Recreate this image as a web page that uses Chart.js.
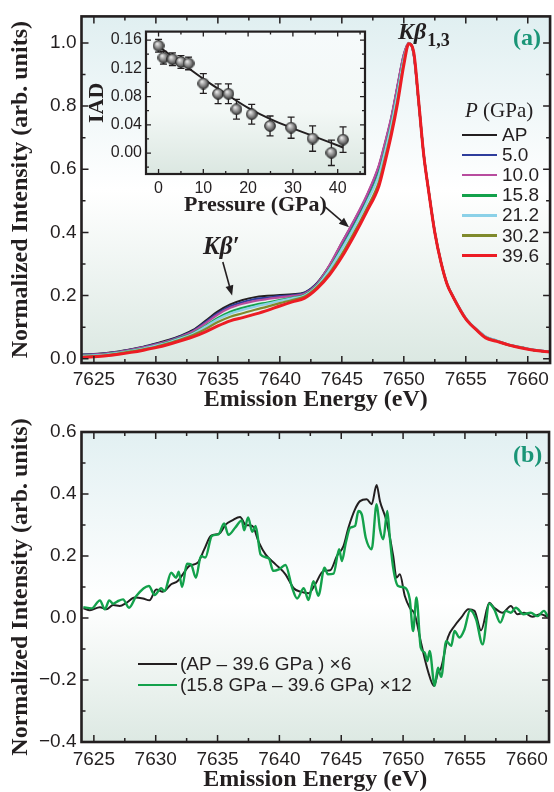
<!DOCTYPE html>
<html>
<head>
<meta charset="utf-8">
<title>Kβ emission spectra under pressure</title>
<script src="https://cdn.jsdelivr.net/npm/chart.js@4.4.1/dist/chart.umd.min.js"></script>
<style>
  html, body { margin: 0; padding: 0; background: #fff; }
  #page { position: relative; width: 554px; height: 792px; overflow: hidden; }
  canvas { position: absolute; }
  .txt { position: absolute; white-space: nowrap; line-height: 1; color: #231f20; }
  .serif { font-family: 'Liberation Serif', 'Times New Roman', serif; }
  .sans { font-family: 'Liberation Sans', Arial, sans-serif; }
  .tag { font-weight: bold; font-size: 24px; color: #1a9577; }
  .leg { position: absolute; display: flex; align-items: center; height: 20px; font-family: 'Liberation Sans', Arial, sans-serif; font-size: 19px; color: #231f20; white-space: nowrap; }
  .sw { display: inline-block; }
</style>
</head>
<body>
<div id="page">
  <canvas id="chartA" width="554" height="412" style="left:0;top:0"></canvas>
  <canvas id="chartInset" width="288" height="202" style="left:84px;top:18px"></canvas>
  <canvas id="chartB" width="554" height="380" style="left:0;top:412px"></canvas>

  <div class="txt serif" style="left:398px;top:19px;font-size:24px;font-weight:bold;font-style:italic">Kβ<span style="font-style:normal;font-size:18px;position:relative;top:7px;margin-left:1px">1,3</span></div>
  <div class="txt serif tag" style="left:513px;top:25px">(a)</div>
  <div class="txt serif" style="left:203px;top:233px;font-size:25px;font-weight:bold;font-style:italic">Kβ′</div>
  <div class="txt serif" style="left:465px;top:100px;font-size:21px"><i>P</i> (GPa)</div>
  <div id="legendA"></div>
  <div class="txt serif tag" style="left:513px;top:442px">(b)</div>
  <div id="legendB"></div>
</div>
<script>
// ---- panel (a): Kbeta spectra ----
const energyA = [7624, 7625, 7626, 7627, 7628, 7629, 7630, 7631, 7632, 7633, 7634, 7635, 7636, 7637, 7638, 7639, 7640,
  7641, 7642, 7643, 7644, 7645, 7646, 7647, 7648, 7648.5, 7649, 7649.5, 7650, 7650.4, 7650.8, 7651.2, 7651.6, 7652,
  7652.5, 7653, 7653.5, 7654, 7655, 7656, 7656.6, 7657.5, 7658.5, 7659.5, 7660.5, 7661.8];

const specAP = [.013, .015, .018, .023, .030, .038, .048, .059, .073, .091, .120, .150, .172, .186, .195, .199, .202,
  .204, .210, .240, .295, .367, .438, .515, .612, .685, .765, .866, .963, 1.000, .963, .810, .648, .532,
  .400, .305, .235, .194, .127, .087, .069, .056, .043, .035, .027, .021];
const spec5 = [.012, .014, .017, .022, .029, .037, .046, .057, .071, .088, .116, .144, .166, .179, .189, .193, .198,
  .201, .208, .238, .293, .363, .434, .511, .607, .680, .761, .862, .960, .999, .964, .811, .649, .533,
  .401, .306, .236, .195, .128, .088, .070, .057, .044, .036, .028, .022];
const spec10 = [.011, .013, .016, .021, .028, .036, .045, .056, .069, .086, .112, .140, .161, .174, .183, .189, .194,
  .199, .206, .236, .296, .368, .439, .517, .614, .687, .767, .868, .964, 1.000, .962, .810, .647, .531,
  .399, .304, .235, .194, .127, .088, .070, .056, .044, .035, .027, .021];
const spec158 = [.009, .011, .014, .019, .026, .033, .042, .053, .066, .081, .104, .129, .149, .161, .171, .178, .186,
  .193, .202, .232, .285, .351, .421, .498, .590, .664, .746, .846, .951, .999, .966, .812, .650, .534,
  .402, .306, .236, .195, .126, .087, .068, .056, .043, .035, .027, .021];
const spec212 = [.008, .010, .013, .018, .025, .032, .041, .051, .064, .079, .101, .125, .143, .155, .165, .174, .183,
  .191, .200, .230, .282, .347, .416, .493, .583, .658, .740, .841, .948, .999, .967, .813, .649, .533,
  .401, .306, .237, .196, .129, .089, .070, .057, .044, .036, .028, .022];
const spec302 = [.006, .008, .011, .016, .023, .030, .038, .049, .061, .075, .094, .116, .133, .144, .155, .165, .176,
  .186, .197, .227, .271, .331, .400, .475, .561, .637, .721, .821, .937, .998, .969, .814, .648, .532,
  .400, .305, .235, .194, .127, .087, .068, .056, .043, .035, .027, .021];
const spec396 = [.004, .006, .009, .014, .020, .027, .035, .045, .057, .069, .085, .104, .120, .130, .141, .153, .167,
  .180, .192, .222, .265, .322, .390, .465, .548, .625, .710, .810, .930, .997, .970, .815, .648, .532,
  .400, .305, .235, .194, .126, .086, .066, .055, .043, .034, .027, .021];

const pressureLabels = ['AP', '5.0', '10.0', '15.8', '21.2', '30.2', '39.6'];
const spectra = [specAP, spec5, spec10, spec158, spec212, spec302, spec396];
const lineColors = ['#231f20', '#2e3d9c', '#b84c9e', '#13a14b', '#8bd1e8', '#7f8a2c', '#ec1c24'];
const lineWidths = [2, 2.2, 2.2, 2.2, 2.4, 2.2, 3];

// ---- inset: IAD vs pressure ----
const pressure = [0, 1.1, 3.1, 5.0, 6.7, 10.0, 13.3, 15.6, 17.4, 20.8, 24.9, 29.6, 34.4, 38.6, 41.2];
const iad = [0.152, 0.135, 0.133, 0.129, 0.127, 0.0985, 0.084, 0.084, 0.062, 0.055, 0.0385, 0.036, 0.0206, 0.0004, 0.019];
const iadErr = [0.009, 0.009, 0.009, 0.009, 0.009, 0.014, 0.014, 0.014, 0.014, 0.014, 0.014, 0.015, 0.018, 0.018, 0.018];
const fitP = [0, 5, 10, 15, 20, 25, 30, 35, 41.2];
const fitIAD = [0.151, 0.128, 0.105, 0.084, 0.064, 0.048, 0.035, 0.023, 0.008];

// ---- panel (b): difference spectra ----
const energyDiffAP = [7624.15, 7624.68, 7625.49, 7626.0, 7626.56, 7627.09, 7627.63, 7628.3, 7628.97, 7629.5, 7630.04,
  7630.58, 7631.25, 7631.78, 7632.19, 7632.72, 7633.39, 7633.93, 7634.46, 7635.13, 7635.67, 7636.2, 7636.82, 7637.28,
  7637.81, 7638.35, 7638.88, 7639.69, 7640.49, 7641.16, 7641.7, 7642.37, 7642.9, 7643.57, 7644.11, 7644.65, 7645.18,
  7645.58, 7646.12, 7646.52, 7647.06, 7647.46, 7647.86, 7648.13, 7648.66, 7649.2, 7649.47, 7649.74, 7650.14, 7650.54,
  7650.94, 7651.48, 7652.01, 7652.5, 7652.82, 7653.08, 7653.62, 7654.16, 7654.69, 7655.28, 7655.77, 7656.3, 7656.97,
  7657.37, 7658.04, 7658.71, 7659.25, 7659.78, 7660.45, 7661.12, 7661.66];
const diffAP = [.031, .025, .035, .028, .042, .039, .049, .066, .063, .057, .092,
  .085, .109, .119, .141, .168, .178, .222, .265, .272, .302, .315, .326, .300,
  .297, .243, .205, .173, .141, .096, .085, .080, .109, .152, .154, .200, .232,
  .291, .351, .377, .383, .367, .429, .377, .313, .200, .130, .141, .071, .033,
  .012, -.085, -.171, -.219, -.176, -.160, -.063, -.026, .001, .028, .023, -.040, .049,
  .033, .017, .039, .012, .017, .004, .012, .004];

const energyDiff158 = [7624.15, 7624.82, 7625.49, 7625.89, 7626.24, 7626.56, 7626.88, 7627.36, 7627.84, 7628.43, 7629.45,
  7629.91, 7630.44, 7630.71, 7631.25, 7631.65, 7631.86, 7632.13, 7632.53, 7632.85, 7633.25, 7633.66, 7634.01, 7634.54,
  7635.08, 7635.53, 7635.88, 7636.42, 7636.96, 7637.15, 7637.47, 7637.81, 7638.08, 7638.48, 7639.15, 7639.5, 7639.96,
  7640.49, 7641.03, 7641.43, 7641.97, 7642.35, 7642.75, 7643.15, 7643.65, 7643.92, 7644.38, 7644.83, 7645.05, 7645.37,
  7645.72, 7646.12, 7646.39, 7646.66, 7646.98, 7647.46, 7647.86, 7648.13, 7648.4, 7648.72, 7648.93, 7649.2, 7649.6,
  7650.14, 7650.54, 7650.81, 7651.08, 7651.43, 7651.75, 7651.96, 7652.15, 7652.55, 7652.82, 7653.08, 7653.49, 7653.89,
  7654.16, 7654.56, 7654.96, 7655.42, 7655.9, 7656.43, 7656.97, 7657.37, 7657.86, 7658.31, 7658.71, 7659.12, 7659.73,
  7660.32, 7660.86, 7661.39, 7661.71];
const diff158 = [.035, .031, .057, .028, .057, .046, .053, .060, .033, .071, .103,
  .074, .096, .087, .146, .130, .149, .100, .175, .173, .130, .200, .195, .265,
  .270, .305, .268, .291, .315, .283, .324, .278, .297, .205, .192, .152, .157,
  .171, .098, .063, .096, .058, .119, .072, .162, .141, .143, .222, .184, .243,
  .291, .297, .345, .334, .259, .222, .367, .286, .254, .345, .259, .162, .103,
  .098, .060, -.042, .066, -.096, -.112, -.139, -.106, -.219, -.160, -.190, -.074, -.090,
  -.042, -.063, -.037, .025, -.004, -.085, .046, .028, -.015, .023, .017, .033, .012,
  .017, .006, .023, .004];

const diffLabels = ['(AP – 39.6 GPa ) ×6', '(15.8 GPa – 39.6 GPa) ×12'];
const diffColors = ['#231f20', '#13a14b'];

// annotation arrows in data units: [fromE, fromI, toE, toI]
const arrowsA = [[7635.40, 0.306, 7636.15, 0.200], [7643.65, 0.481, 7645.58, 0.416]];

const INK = '#231f20';
Chart.defaults.font.family = "'Liberation Sans', Arial, sans-serif";
Chart.defaults.color = INK;

// gradient fill, inward ticks on all four sides, black frame
const boxPlugin = {
  id: 'box',
  beforeDraw(chart, args, o) {
    const { ctx, chartArea: a } = chart;
    const g = ctx.createLinearGradient(0, a.top, 0, a.bottom);
    o.stops.forEach(s => g.addColorStop(s[0], s[1]));
    ctx.save();
    ctx.fillStyle = g;
    ctx.fillRect(a.left, a.top, a.right - a.left, a.bottom - a.top);
    ctx.restore();
  },
  afterDraw(chart, args, o) {
    const { ctx, chartArea: a, scales } = chart;
    ctx.save();
    ctx.strokeStyle = INK;
    ctx.lineWidth = o.tickWidth;
    [scales.x, scales.y].forEach(s => {
      const vals = s.ticks.map(t => t.value);
      const step = vals[1] - vals[0];
      const marks = vals.map(v => [v, o.major]);
      for (let v = vals[0] - step / 2; v <= s.max; v += step) {
        if (v >= s.min) marks.push([v, o.minor]);
      }
      marks.forEach(([v, len]) => {
        const p = s.getPixelForValue(v);
        ctx.beginPath();
        if (s.isHorizontal()) {
          ctx.moveTo(p, a.bottom); ctx.lineTo(p, a.bottom - len);
          ctx.moveTo(p, a.top); ctx.lineTo(p, a.top + len);
        } else {
          ctx.moveTo(a.left, p); ctx.lineTo(a.left + len, p);
          ctx.moveTo(a.right, p); ctx.lineTo(a.right - len, p);
        }
        ctx.stroke();
      });
    });
    ctx.lineWidth = o.frame;
    ctx.strokeRect(a.left, a.top, a.right - a.left, a.bottom - a.top);
    ctx.restore();
  }
};

const arrowPlugin = {
  id: 'arrows',
  afterDatasetsDraw(chart) {
    const { ctx, scales: { x, y } } = chart;
    ctx.save();
    ctx.strokeStyle = INK;
    ctx.fillStyle = INK;
    ctx.lineWidth = 1.6;
    arrowsA.forEach(([e0, v0, e1, v1]) => {
      const x0 = x.getPixelForValue(e0), y0 = y.getPixelForValue(v0);
      const x1 = x.getPixelForValue(e1), y1 = y.getPixelForValue(v1);
      const ang = Math.atan2(y1 - y0, x1 - x0);
      const hl = 10, hw = 4;
      const bx = x1 - hl * Math.cos(ang), by = y1 - hl * Math.sin(ang);
      ctx.beginPath(); ctx.moveTo(x0, y0); ctx.lineTo(bx, by); ctx.stroke();
      ctx.beginPath();
      ctx.moveTo(x1, y1);
      ctx.lineTo(bx + hw * Math.sin(ang), by - hw * Math.cos(ang));
      ctx.lineTo(bx - hw * Math.sin(ang), by + hw * Math.cos(ang));
      ctx.closePath();
      ctx.fill();
    });
    ctx.restore();
  }
};

const errorBars = {
  id: 'errorBars',
  beforeDatasetsDraw(chart) {
    const { ctx, scales: { x, y } } = chart;
    ctx.save();
    ctx.strokeStyle = INK;
    ctx.lineWidth = 1.3;
    pressure.forEach((p, i) => {
      const px = x.getPixelForValue(p);
      const top = y.getPixelForValue(iad[i] + iadErr[i]);
      const bot = y.getPixelForValue(iad[i] - iadErr[i]);
      ctx.beginPath();
      ctx.moveTo(px, top); ctx.lineTo(px, bot);
      ctx.moveTo(px - 3.5, top); ctx.lineTo(px + 3.5, top);
      ctx.moveTo(px - 3.5, bot); ctx.lineTo(px + 3.5, bot);
      ctx.stroke();
    });
    ctx.restore();
  }
};

const tickFont = { family: "'Liberation Sans', Arial, sans-serif", size: 19 };
const titleFont = { family: "'Liberation Serif', 'Times New Roman', serif", size: 24, weight: 'bold', lineHeight: 1 };
const noGrid = { display: false, drawTicks: false };
const fmtSigned = v => {
  const r = Math.round(v * 10) / 10;
  return r < 0 ? '−' + Math.abs(r).toFixed(1) : r.toFixed(1);
};

function energyAxis(height, pad, titlePad) {
  return {
    type: 'linear', min: 7624, max: 7661.8,
    ticks: { stepSize: 5, includeBounds: false, autoSkip: false, maxRotation: 0, padding: pad, font: tickFont, callback: v => String(v) },
    grid: noGrid, border: { display: false },
    title: { display: true, text: 'Emission Energy (eV)', font: titleFont, color: INK, padding: { top: 0, bottom: titlePad } },
    afterFit: s => { s.height = height; }
  };
}
function intensityAxis(min, max, fmt) {
  return {
    type: 'linear', min: min, max: max,
    ticks: { stepSize: 0.2, includeBounds: false, autoSkip: false, padding: 5, font: tickFont, callback: fmt },
    grid: noGrid, border: { display: false },
    title: { display: true, text: 'Normalized Intensity (arb. units)', font: titleFont, color: INK, padding: { top: 9, bottom: 0 } },
    afterFit: s => { s.width = 81.5; }
  };
}

// panel (a)
new Chart(document.getElementById('chartA'), {
  type: 'line',
  data: {
    datasets: spectra.map((vals, i) => ({
      label: pressureLabels[i],
      data: vals.map((v, k) => ({ x: energyA[k], y: v })),
      borderColor: lineColors[i],
      borderWidth: lineWidths[i],
      pointRadius: 0,
      cubicInterpolationMode: 'monotone',
      order: spectra.length - i
    }))
  },
  options: {
    responsive: false, animation: false,
    layout: { padding: { top: 15, right: 2, left: 0, bottom: 0 } },
    plugins: {
      legend: { display: false }, tooltip: { enabled: false },
      box: { stops: [[0, '#e0eff1'], [0.5, '#ffffff'], [1, '#dbe8e2']], major: 7, minor: 4, tickWidth: 1.5, frame: 2.6 }
    },
    scales: {
      x: energyAxis(49, 5, 0),
      y: intensityAxis(-0.0136, 1.084, v => v.toFixed(1))
    }
  },
  plugins: [boxPlugin, arrowPlugin]
});

// inset
const ball = document.createElement('canvas');
ball.width = ball.height = 12;
(() => {
  const bc = ball.getContext('2d');
  const rg = bc.createRadialGradient(4.5, 4, 0.5, 6, 6, 6);
  rg.addColorStop(0, '#e6e6e6');
  rg.addColorStop(0.5, '#8c8c8c');
  rg.addColorStop(1, '#2b2b2b');
  bc.fillStyle = rg;
  bc.beginPath(); bc.arc(6, 6, 5.4, 0, Math.PI * 2); bc.fill();
  bc.strokeStyle = '#222'; bc.lineWidth = 0.8; bc.stroke();
})();

const insetTick = { family: "'Liberation Sans', Arial, sans-serif", size: 16 };
const insetTitle = { family: "'Liberation Serif', 'Times New Roman', serif", size: 22, weight: 'bold', lineHeight: 1 };
new Chart(document.getElementById('chartInset'), {
  type: 'line',
  data: {
    datasets: [
      { data: fitP.map((p, i) => ({ x: p, y: fitIAD[i] })), borderColor: INK, borderWidth: 2, pointRadius: 0, tension: 0.3, order: 1 },
      { data: pressure.map((p, i) => ({ x: p, y: iad[i] })), showLine: false, pointStyle: ball, pointRadius: 6, order: 0 }
    ]
  },
  options: {
    responsive: false, animation: false,
    layout: { padding: { top: 6, right: 6, left: 0, bottom: 0 } },
    plugins: {
      legend: { display: false }, tooltip: { enabled: false },
      box: { stops: [[0, '#f6fafb'], [0.55, '#f3f8f6'], [1, '#dbe7e1']], major: 5, minor: 3, tickWidth: 1.3, frame: 2.2 }
    },
    scales: {
      x: {
        type: 'linear', min: -2.8, max: 46.1,
        ticks: { stepSize: 10, includeBounds: false, autoSkip: false, maxRotation: 0, padding: 5, font: insetTick, callback: v => String(v) },
        grid: noGrid, border: { display: false },
        title: { display: true, text: 'Pressure (GPa)', font: insetTitle, color: INK, padding: { top: 0, bottom: 4 } },
        afterFit: s => { s.height = 46; }
      },
      y: {
        type: 'linear', min: -0.0296, max: 0.172,
        ticks: { stepSize: 0.04, includeBounds: false, autoSkip: false, padding: 4, font: insetTick, callback: v => v.toFixed(2) },
        grid: noGrid, border: { display: false },
        title: { display: true, text: 'IAD', font: insetTitle, color: INK, padding: { top: 2, bottom: 0 } },
        afterFit: s => { s.width = 62; }
      }
    }
  },
  plugins: [boxPlugin, errorBars]
});

// panel (b)
const diffSets = [[energyDiffAP, diffAP], [energyDiff158, diff158]];
new Chart(document.getElementById('chartB'), {
  type: 'line',
  data: {
    datasets: diffSets.map(([xs, ys], i) => ({
      label: diffLabels[i],
      data: ys.map((v, k) => ({ x: xs[k], y: v })),
      borderColor: diffColors[i],
      borderWidth: i === 0 ? 2 : 2.4,
      pointRadius: 0,
      cubicInterpolationMode: 'monotone',
      order: 1 - i
    }))
  },
  options: {
    responsive: false, animation: false,
    layout: { padding: { top: 20, right: 2, left: 0, bottom: 0 } },
    plugins: {
      legend: { display: false }, tooltip: { enabled: false },
      box: { stops: [[0, '#e2f0f2'], [0.55, '#ffffff'], [1, '#dde9e3']], major: 7, minor: 4, tickWidth: 1.5, frame: 2.6 }
    },
    scales: {
      x: energyAxis(50, 6, 0),
      y: intensityAxis(-0.4, 0.6, fmtSigned)
    }
  },
  plugins: [boxPlugin]
});

// legends as HTML text
const legA = document.getElementById('legendA');
pressureLabels.forEach((lab, i) => {
  const row = document.createElement('div');
  row.className = 'leg';
  row.style.left = '462px';
  row.style.top = (125 + i * 20.1) + 'px';
  row.innerHTML = '<span class="sw" style="width:35px;height:' + (lineWidths[i] + 0.4) + 'px;background:' + lineColors[i] + '"></span>' +
    '<span style="margin-left:5px">' + lab + '</span>';
  legA.appendChild(row);
});
const legB = document.getElementById('legendB');
diffLabels.forEach((lab, i) => {
  const row = document.createElement('div');
  row.className = 'leg';
  row.style.left = '138px';
  row.style.top = (654 + i * 21) + 'px';
  row.innerHTML = '<span class="sw" style="width:39px;height:' + (i === 0 ? 2 : 2.6) + 'px;background:' + diffColors[i] + '"></span>' +
    '<span style="margin-left:3px">' + lab + '</span>';
  legB.appendChild(row);
});
</script>
</body>
</html>
